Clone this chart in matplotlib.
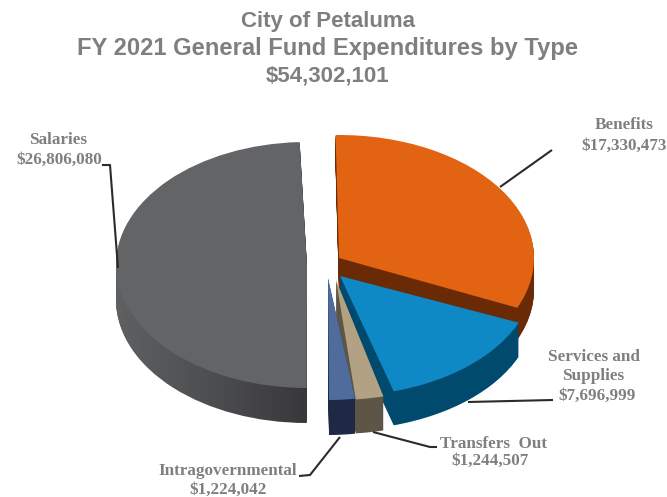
import numpy as np
import matplotlib
matplotlib.use("Agg")
import matplotlib.pyplot as plt
from matplotlib.colors import LinearSegmentedColormap
from matplotlib.transforms import Affine2D

# values in dollars, clockwise from 12 o'clock
categories = ["Benefits", "Services and Supplies", "Transfers Out", "Intragovernmental", "Salaries"]
values = [17330473, 7696999, 1244507, 1224042, 26806080]
label_values = ["$17,330,473", "$7,696,999", "$1,244,507", "$1,224,042", "$26,806,080"]
title_lines = ["City of Petaluma", "FY 2021 General Fund Expenditures by Type", "$54,302,101"]
title_sizes = [16, 17.1, 16]

top_colors = ["#e26312", "#0f88c6", "#b3a184", "#4f6c9c", "#636466"]
side_colors = ["#6a2a06", "#004a6d", "#5d5545", "#1d2945", "#48494b"]

# slice layout in pixels: centre x, centre y, radius x, radius y, depth, rotation
layout = {
  "Salaries": (307, 265, 191, 123, 35, 2.2),
  "Benefits": (339, 258, 195, 123, 32, 1),
  "Services and Supplies": (340, 276, 194, 120, 34, 2),
  "Transfers Out": (336, 280, 195, 120, 34, 0),
  "Intragovernmental": (328, 278, 185, 122, 35, 2.6),
}
draw_order = ["Salaries", "Benefits", "Services and Supplies", "Transfers Out", "Intragovernmental"]

GREY = "#7f7f7f"
SERIF = "Liberation Serif"
LINE = "#2b2b2b"

fig = plt.figure(figsize=(6.67, 4.97), dpi=100)
ax = fig.add_axes([0, 0, 1, 1])
side_cmap = LinearSegmentedColormap.from_list("side", ["#5f6062", "#4d4e50", "#38383a"])
total = sum(values)


def one_wedge(name, color, d):
  i = categories.index(name)
  cx, cy, rx, ry, _, rot = layout[name]
  start = 90 - sum(values[:i]) / total * 360 + rot
  wedges, _ = ax.pie([values[i], total - values[i]], startangle=start, counterclock=False,
                     colors=[color, "white"], wedgeprops={"linewidth": 0})
  wedges[1].set_visible(False)
  wedges[0].set_transform(Affine2D().scale(rx, -ry).translate(cx, cy + d) + ax.transData)
  return wedges[0]


gradient = np.linspace(0, 1, 200).reshape(1, -1)
for name in draw_order:
  i = categories.index(name)
  depth = layout[name][4]
  for d in range(depth, 0, -1):
    w = one_wedge(name, side_colors[i], d)
    if name == "Salaries":
      # side of the big slice gets darker towards the front
      w.set_visible(False)
      im = ax.imshow(gradient, extent=(116, 307, 497, 0), aspect="auto", cmap=side_cmap)
      im.set_clip_path(w)
  one_wedge(name, top_colors[i], 0)

# leader lines
leaders = [
  ([102, 110, 118], [165, 165, 268]),
  ([500, 552], [187, 150]),
  ([468, 553], [402, 400]),
  ([373, 430, 437], [432, 447, 447]),
  ([340, 310, 299], [437, 475, 476]),
]
for xs, ys in leaders:
  ax.plot(xs, ys, color=LINE, lw=1.5, solid_capstyle="butt")

# labels
lab = dict(family=SERIF, weight="bold", color=GREY, fontsize=12.3, ha="center", va="center")
ax.text(58, 140, "Salaries", **lab)
ax.text(59, 160, label_values[4], **lab)
ax.text(624, 125, "Benefits", **lab)
ax.text(624, 146, label_values[0], **lab)
ax.text(594, 357, "Services and", **lab)
ax.text(593, 376, "Supplies", **lab)
ax.text(597, 396, label_values[1], **lab)
ax.text(494, 444, "Transfers  Out", **lab)
ax.text(490, 461, label_values[2], **lab)
ax.text(228, 471, categories[3], **lab)
ax.text(228, 490, label_values[3], **lab)

for text, y, size in zip(title_lines, [21, 49, 76], title_sizes):
  ax.text(328, y, text, family="Liberation Sans", weight="bold", color=GREY, fontsize=size, ha="center", va="center")

ax.set_aspect("auto")
ax.set_xlim(0, 667)
ax.set_ylim(497, 0)
ax.axis("off")
fig.savefig("out.png", dpi=100, facecolor="white")
